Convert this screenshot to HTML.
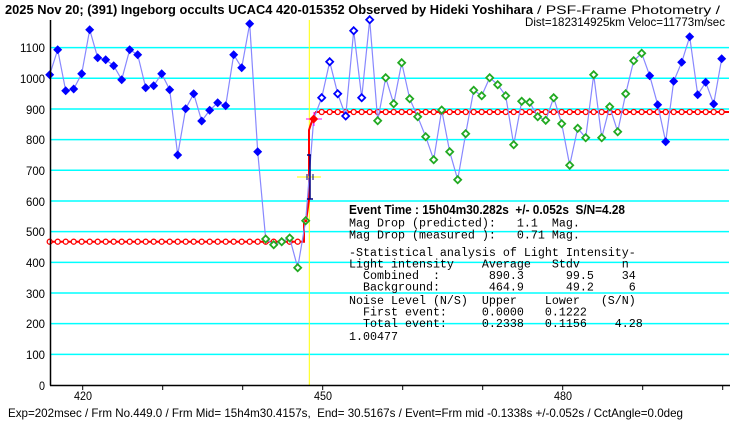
<!DOCTYPE html>
<html><head><meta charset="utf-8"><style>
html,body{margin:0;padding:0;background:#fff;}
svg{display:block;}
text{font-family:"Liberation Sans","Noto Sans CJK JP",sans-serif;white-space:pre;}
.m{font-family:"Liberation Mono",monospace;font-size:11.67px;white-space:pre;}
</style></head><body>
<svg id="s" width="740" height="425" viewBox="0 0 740 425" xmlns="http://www.w3.org/2000/svg">
<g id="grid"></g>
<line x1="309.3" y1="20" x2="309.3" y2="385" stroke="#ffff00" stroke-width="1"/>
<g id="data"></g>
<line x1="50.5" y1="20" x2="50.5" y2="385.5" stroke="#000" stroke-width="1.5"/>
<line x1="50" y1="385.5" x2="730" y2="385.5" stroke="#000" stroke-width="1.5"/>
<g font-size="12" text-anchor="end" fill="#000">
<text x="45" y="52" textLength="25" lengthAdjust="spacingAndGlyphs">1100</text>
<text x="45" y="83" textLength="25" lengthAdjust="spacingAndGlyphs">1000</text>
<text x="45" y="114" textLength="19" lengthAdjust="spacingAndGlyphs">900</text>
<text x="45" y="144" textLength="19" lengthAdjust="spacingAndGlyphs">800</text>
<text x="45" y="175" textLength="19" lengthAdjust="spacingAndGlyphs">700</text>
<text x="45" y="206" textLength="19" lengthAdjust="spacingAndGlyphs">600</text>
<text x="45" y="236" textLength="19" lengthAdjust="spacingAndGlyphs">500</text>
<text x="45" y="267" textLength="19" lengthAdjust="spacingAndGlyphs">400</text>
<text x="45" y="298" textLength="19" lengthAdjust="spacingAndGlyphs">300</text>
<text x="45" y="328" textLength="19" lengthAdjust="spacingAndGlyphs">200</text>
<text x="45" y="359" textLength="19" lengthAdjust="spacingAndGlyphs">100</text>
<text x="45" y="390" textLength="6" lengthAdjust="spacingAndGlyphs">0</text>
</g>
<g font-size="12" text-anchor="middle">
<text x="83" y="400" textLength="18" lengthAdjust="spacingAndGlyphs">420</text>
<text x="323" y="400" textLength="18" lengthAdjust="spacingAndGlyphs">450</text>
<text x="563" y="400" textLength="18" lengthAdjust="spacingAndGlyphs">480</text>
</g>
<text x="5" y="14" font-size="13" font-weight="bold" textLength="528" lengthAdjust="spacingAndGlyphs">2025 Nov 20; (391) Ingeborg occults UCAC4 420-015352 Observed by Hideki Yoshihara</text>
<text x="537" y="14" font-size="12" textLength="183" lengthAdjust="spacingAndGlyphs">/ PSF-Frame Photometry /</text>
<text x="525" y="26" font-size="12" textLength="200" lengthAdjust="spacingAndGlyphs">Dist=182314925km Veloc=11773m/sec</text>
<text x="349" y="214" font-size="13" font-weight="bold" textLength="276" lengthAdjust="spacingAndGlyphs">Event Time : 15h04m30.282s  +/- 0.052s  S/N=4.28</text>
<text class="m" x="349" y="226.5">Mag Drop (predicted):   1.1  Mag.</text>
<text class="m" x="349" y="238.5">Mag Drop (measured ):   0.71 Mag.</text>
<text class="m" x="349" y="256">-Statistical analysis of Light Intensity-</text>
<text class="m" x="349" y="267.5">Light intensity    Average   Stdv      n</text>
<text class="m" x="349" y="279">  Combined  :       890.3      99.5    34</text>
<text class="m" x="349" y="290.5">  Background:       464.9      49.2     6</text>
<text class="m" x="349" y="304">Noise Level (N/S)  Upper    Lower   (S/N)</text>
<text class="m" x="349" y="315.5">  First event:     0.0000   0.1222</text>
<text class="m" x="349" y="327">  Total event:     0.2338   0.1156    4.28</text>
<text class="m" x="349" y="340">1.00477</text>
<text x="8" y="417" font-size="12" textLength="675" lengthAdjust="spacingAndGlyphs">Exp=202msec / Frm No.449.0 / Frm Mid= 15h4m30.4157s,  End= 30.5167s / Event=Frm mid -0.1338s +/-0.052s / CctAngle=0.0deg</text>
</svg>
<script>
var NS="http://www.w3.org/2000/svg";
function el(p,t,a){var e=document.createElementNS(NS,t);for(var k in a)e.setAttribute(k,a[k]);p.appendChild(e);return e;}
var G=document.getElementById('grid'),D=document.getElementById('data');
for(var v=100;v<=1100;v+=100){var y=385-v*0.3067;el(G,'line',{x1:50,y1:y,x2:729,y2:y,stroke:'#00ffff','stroke-width':1.5});}
for(var f=420;f<=500;f+=10){var x=82.7+(f-420)*8;el(G,'line',{x1:x,y1:385,x2:x,y2:390,stroke:'#000','stroke-width':1});}
var ys=[74.7,49.7,90.7,89,73.7,29.7,57.7,59.7,65.7,79.7,49.7,54.7,87.7,85.7,73.7,89.7,155,108.7,93.7,121,110.3,102.7,105.7,54.7,67.7,23.7,151.7,
239,244.7,241.7,238,267.7,220.7,119,
97.7,61.7,93.7,116,30.7,97.7,19.7,
120.7,77.7,103.7,62.7,98.7,116.7,136.7,159.7,110,151.7,179.7,133.7,90.3,95.7,77.7,84.7,95.7,144.7,101.3,102.3,116.7,120.3,97.7,123.7,165.3,128.3,137.7,74.7,137.7,106.7,131.7,93.7,60.7,53.3,
75.7,104.7,141.7,81.3,62.3,36.7,94.7,82.3,104,58.7];
var pts=ys.map(function(y,i){return [49.7+8*i,y];});
var rl='M50,241.7 L304,241.7 L304,221 L306,221 L309,200 L309,130 L313,118 L316,112 L729,112';
el(D,'path',{d:rl,fill:'none',stroke:'#ff0000','stroke-width':2});
for(var i=0;i<32;i++){el(D,'circle',{cx:49.7+8*i,cy:241.7,r:2.5,fill:'#fff',stroke:'#ff0000','stroke-width':1.3});}
for(var i=34;i<85;i++){el(D,'circle',{cx:49.7+8*i,cy:112,r:2.5,fill:'#fff',stroke:'#ff0000','stroke-width':1.3});}
el(D,'polyline',{points:pts.map(function(p){return p.join(',');}).join(' '),fill:'none',stroke:'#8888ff','stroke-width':1.2});
el(D,'line',{x1:297,y1:177,x2:321,y2:177,stroke:'#ffff00','stroke-width':1});
el(D,'line',{x1:310,y1:155,x2:310,y2:199,stroke:'#000080','stroke-width':1.5});
el(D,'line',{x1:307,y1:155,x2:311,y2:155,stroke:'#000080','stroke-width':1.5});
el(D,'line',{x1:307,y1:199,x2:313,y2:199,stroke:'#000080','stroke-width':1.5});
el(D,'line',{x1:307,y1:174,x2:307,y2:180,stroke:'#000080','stroke-width':1});
el(D,'line',{x1:313,y1:174,x2:313,y2:180,stroke:'#000080','stroke-width':1});
el(D,'line',{x1:306,y1:119,x2:322,y2:119,stroke:'#ff00ff','stroke-width':1});
el(D,'line',{x1:314,y1:112,x2:314,y2:126,stroke:'#ff00ff','stroke-width':1});
function dia(x,y,h){return (x)+','+(y-h)+' '+(x+h)+','+y+' '+x+','+(y+h)+' '+(x-h)+','+y;}
pts.forEach(function(p,i){
 var x=p[0],y=p[1];
 if(i<=26||i>=75){el(D,'polygon',{points:dia(x,y,4.5),fill:'#0000ff'});}
 else if(i==32){el(D,'polygon',{points:dia(x,y,3.5),fill:'#fff',stroke:'#22aa22','stroke-width':1.8});el(D,'circle',{cx:x,cy:y,r:1.5,fill:'#ff0000'});}
 else if(i==33){el(D,'polygon',{points:dia(x,y,4.5),fill:'#ff0000'});}
 else if(i>=34&&i<=40){el(D,'polygon',{points:dia(x,y,3.5),fill:'#fff',stroke:'#0000ff','stroke-width':1.8});}
 else {el(D,'polygon',{points:dia(x,y,3.5),fill:'#fff',stroke:'#22aa22','stroke-width':1.8});}
});
</script>
</body></html>
